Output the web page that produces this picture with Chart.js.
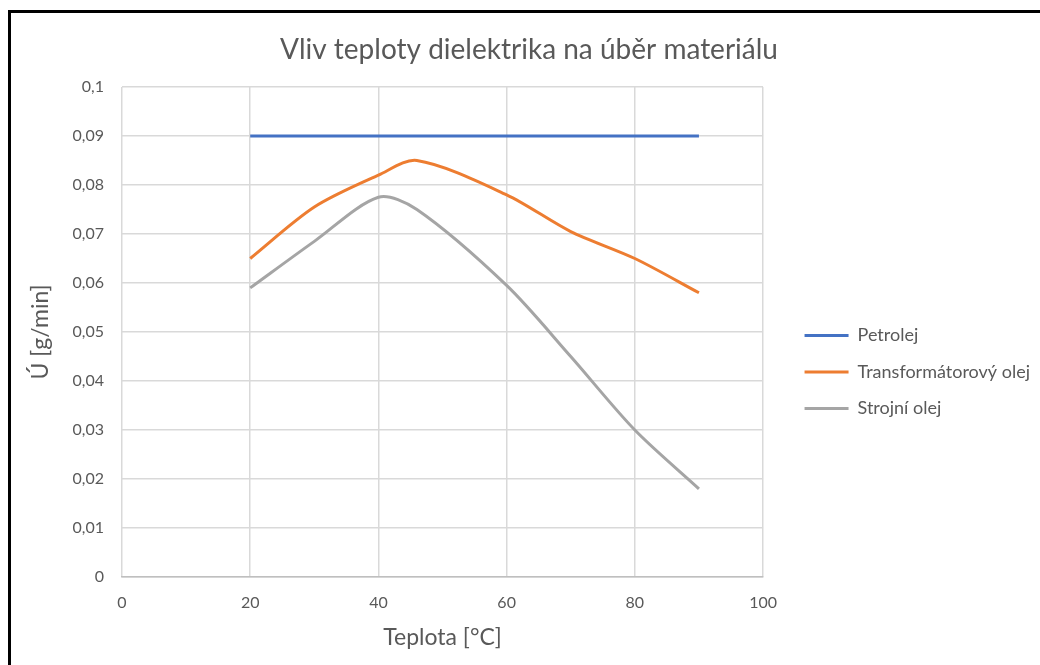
<!DOCTYPE html>
<html>
<head>
<meta charset="utf-8">
<script src="https://cdn.jsdelivr.net/npm/chart.js@4.4.1/dist/chart.umd.min.js"></script>
<style>
  html, body { margin: 0; padding: 0; background: #fff; }
  #wrap { position: relative; width: 1040px; height: 665px; overflow: hidden; }
  #frame { position: absolute; left: 8px; top: 10px; width: 1100px; height: 700px;
           border-left: 3px solid #000; border-top: 3px solid #000; pointer-events: none; }
  canvas { position: absolute; left: 0; top: 0; }
</style>
</head>
<body>
<div id="wrap">
  <canvas id="chart" width="1040" height="665"></canvas>
  <div id="frame"></div>
</div>
<script>
const temperatures = [20, 30, 40, 46, 60, 70, 80, 90];
const petrolej = [0.09, 0.09, 0.09, 0.09, 0.09, 0.09, 0.09, 0.09];
const transformatorovyOlej = [0.065, 0.0755, 0.082, 0.085, 0.078, 0.0705, 0.065, 0.058];
const strojniOlej = [0.059, 0.0685, 0.0775, 0.075, 0.0595, 0.045, 0.030, 0.018];
const seriesNames = ["Petrolej", "Transformátorový olej", "Strojní olej"];
const seriesColors = ["#4472C4", "#ED7D31", "#A5A5A5"];

const FONT = "Lato, 'Open Sans', sans-serif";
const TEXT = "#595959";

const toPoints = values => values.map((v, i) => ({ x: temperatures[i], y: v }));
const fmt = v => String(parseFloat(Number(v).toFixed(3))).replace(".", ",");

const datasets = [petrolej, transformatorovyOlej, strojniOlej].map((values, i) => ({
  label: seriesNames[i],
  data: toPoints(values),
  borderColor: seriesColors[i],
  backgroundColor: seriesColors[i],
  borderWidth: 3,
  pointRadius: 0,
  pointHoverRadius: 0,
  tension: 0.3,
  fill: false
}));

new Chart(document.getElementById("chart"), {
  type: "line",
  data: { datasets },
  options: {
    responsive: false,
    animation: false,
    layout: { padding: { left: 18, top: 33, right: 0, bottom: 10 } },
    plugins: {
      title: {
        display: true,
        text: "Vliv teploty dielektrika na úběr materiálu",
        color: TEXT,
        font: { family: FONT, size: 28, weight: "normal" },
        padding: { top: 0, bottom: 20.4 }
      },
      legend: {
        position: "right",
        maxWidth: 300,
        // empty title only pushes the items down, like Excel places them
        title: { display: true, text: " ", font: { size: 10 }, padding: { top: 44, bottom: 0 } },
        labels: {
          color: TEXT,
          font: { family: FONT, size: 18 },
          usePointStyle: true,
          pointStyle: "line",
          pointStyleWidth: 44,
          boxHeight: 18,
          padding: 18.5
        }
      },
      tooltip: { enabled: false }
    },
    scales: {
      x: {
        type: "linear",
        min: 0,
        max: 100,
        afterFit: s => { s.height = 78; },
        ticks: { stepSize: 20, color: TEXT, font: { family: FONT, size: 16 }, padding: 16 },
        grid: { color: "#d9d9d9", lineWidth: 1.5, drawTicks: false },
        border: { color: "#bfbfbf", width: 1.5 },
        title: { display: true, text: "Teplota [°C]", color: TEXT,
                 font: { family: FONT, size: 23 }, padding: { top: 4, bottom: 4 } }
      },
      y: {
        min: 0,
        max: 0.1,
        afterFit: s => { s.width = 104; },
        ticks: { stepSize: 0.01, color: TEXT, font: { family: FONT, size: 16 }, padding: 18,
                 callback: v => fmt(v) },
        grid: { color: "#d9d9d9", lineWidth: 1.5, drawTicks: false },
        border: { display: false },
        title: { display: true, text: "Ú [g/min]", color: TEXT,
                 font: { family: FONT, size: 23 }, padding: { top: 9, bottom: 4 } }
      },
      gap: {
        type: "linear",
        axis: "y",
        position: "right",
        afterFit: s => { s.width = 23; },
        ticks: { display: false },
        grid: { display: false },
        border: { display: false }
      }
    }
  }
});
</script>
</body>
</html>
